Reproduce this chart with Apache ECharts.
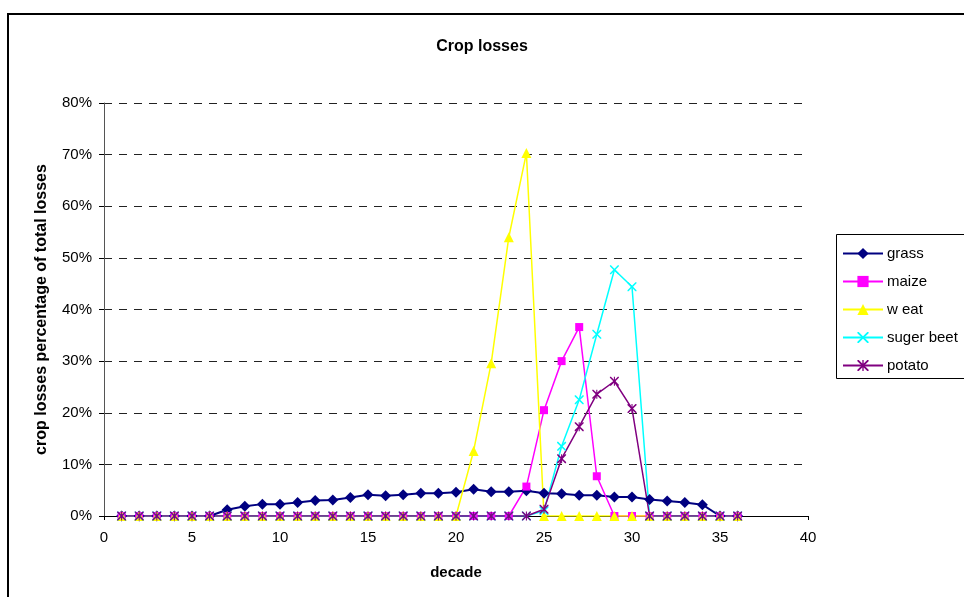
<!DOCTYPE html>
<html>
<head>
<meta charset="utf-8">
<script src="https://cdn.jsdelivr.net/npm/echarts@6/dist/echarts.min.js"></script>
<style>html,body{margin:0;padding:0;background:#fff;}#chart{width:964px;height:597px;}</style>
</head>
<body>
<div id="chart"></div>
<script>
// decades (x values)
var decades = [1,2,3,4,5,6,7,8,9,10,11,12,13,14,15,16,17,18,19,20,21,22,23,24,25,26,27,28,29,30,31,32,33,34,35,36];
// crop losses, percentage of total losses
var grass =      [0,0,0,0,0,0,1.2,1.9,2.3,2.3,2.6,3.0,3.1,3.6,4.1,3.9,4.1,4.4,4.4,4.6,5.2,4.7,4.7,4.9,4.4,4.3,4.0,4.0,3.7,3.7,3.2,2.9,2.6,2.2,0,0];
var maize =      [0,0,0,0,0,0,0,0,0,0,0,0,0,0,0,0,0,0,0,0,0,0,0,5.7,20.5,30.0,36.6,7.7,0,0,0,0,0,0,0,0];
var weat =       [0,0,0,0,0,0,0,0,0,0,0,0,0,0,0,0,0,0,0,0,12.6,29.6,54.0,70.3,0,0,0,0,0,0,0,0,0,0,0,0];
var sugerBeet =  [0,0,0,0,0,0,0,0,0,0,0,0,0,0,0,0,0,0,0,0,0,0,0,0,1.0,13.5,22.5,35.2,47.7,44.4,0,0,0,0,0,0];
var potato =     [0,0,0,0,0,0,0,0,0,0,0,0,0,0,0,0,0,0,0,0,0,0,0,0,1.3,11.1,17.3,23.6,26.1,20.8,0,0,0,0,0,0];
var seriesNames = ['grass','maize','w eat','suger beet','potato'];
var yTicks = [0,10,20,30,40,50,60,70,80];

var xSymbol = 'path://M0,0 L1.2,0 L5,3.8 L8.8,0 L10,0 L10,1.2 L6.2,5 L10,8.8 L10,10 L8.8,10 L5,6.2 L1.2,10 L0,10 L0,8.8 L3.8,5 L0,1.2 Z';
var starSymbol = 'path://M0,0 L1.2,0 L5,3.8 L8.8,0 L10,0 L10,1.2 L6.2,5 L10,8.8 L10,10 L8.8,10 L5,6.2 L1.2,10 L0,10 L0,8.8 L3.8,5 L0,1.2 Z M4.4,0 L5.6,0 L5.6,10 L4.4,10 Z';

function pairs(vals){ return decades.map(function(d,i){ return [d, vals[i]]; }); }

var defs = [
  {name: seriesNames[0], data: grass, color:'#000080', symbol:'diamond', size:11, w:2},
  {name: seriesNames[1], data: maize, color:'#FF00FF', symbol:'rect', size:8, w:1.5},
  {name: seriesNames[2], data: weat, color:'#FFFF00', symbol:'triangle', size:10, w:1.5},
  {name: seriesNames[3], data: sugerBeet, color:'#00FFFF', symbol:xSymbol, size:9, w:1.5},
  {name: seriesNames[4], data: potato, color:'#800080', symbol:starSymbol, size:9, w:1.5}
];

var chart = echarts.init(document.getElementById('chart'), null, {renderer:'canvas'});
var font = 'Liberation Sans, Arial, sans-serif';
chart.setOption({
  animation:false,
  backgroundColor:'#fff',
  textStyle:{fontFamily:font},
  title:{text:'Crop losses', left:'center', top:34,
    textStyle:{fontFamily:font, fontSize:16, fontWeight:'bold', color:'#000'}},
  graphic:[
    {type:'rect', shape:{x:8, y:14, width:1000, height:700},
      style:{fill:'none', stroke:'#000', lineWidth:2}, z:-1, silent:true},
    {type:'rect', shape:{x:836.5, y:234.5, width:200, height:144},
      style:{fill:'none', stroke:'#000', lineWidth:1}, z:10, silent:true}
  ],
  legend:{
    orient:'vertical', left:836, top:234,
    padding:[12,6,6,6], itemGap:13, itemWidth:40, itemHeight:14,
    borderWidth:0,
    textStyle:{fontFamily:font, fontSize:15, color:'#000', padding:[0,0,0,-1]},
    data: seriesNames
  },
  grid:{left:104, right:156, top:103, bottom:81, containLabel:false},
  xAxis:{
    type:'value', min:0, max:40, interval:5,
    name:'decade', nameLocation:'middle', nameGap:49,
    nameTextStyle:{fontFamily:font, fontSize:15, fontWeight:'bold', color:'#000'},
    axisLine:{show:true, onZero:false, lineStyle:{color:'#000', width:1}},
    axisTick:{show:true, inside:false, length:4, lineStyle:{color:'#000'}},
    axisLabel:{fontFamily:font, fontSize:15, color:'#000', margin:14},
    splitLine:{show:false}
  },
  yAxis:{
    type:'value', min:yTicks[0], max:yTicks[yTicks.length-1], interval:10,
    name:'crop losses percentage of total losses', nameLocation:'middle', nameGap:54,
    nameTextStyle:{fontFamily:font, fontSize:16, fontWeight:'bold', color:'#000'},
    axisLine:{show:true, lineStyle:{color:'#555', width:1}},
    axisTick:{show:true, inside:false, length:5, lineStyle:{color:'#000'}},
    axisLabel:{fontFamily:font, fontSize:15, color:'#000', margin:12, formatter:'{value}%'},
    splitLine:{show:true, lineStyle:{color:'#222', width:1, type:[8,7]}}
  },
  series: defs.map(function(d){
    return {
      name:d.name, type:'line', data:pairs(d.data),
      symbol:d.symbol, symbolSize:d.size, showAllSymbol:true,
      itemStyle:{color:d.color, borderWidth:0},
      lineStyle:{color:d.color, width:d.w},
      emphasis:{disabled:true}
    };
  })
});
</script>
</body>
</html>
